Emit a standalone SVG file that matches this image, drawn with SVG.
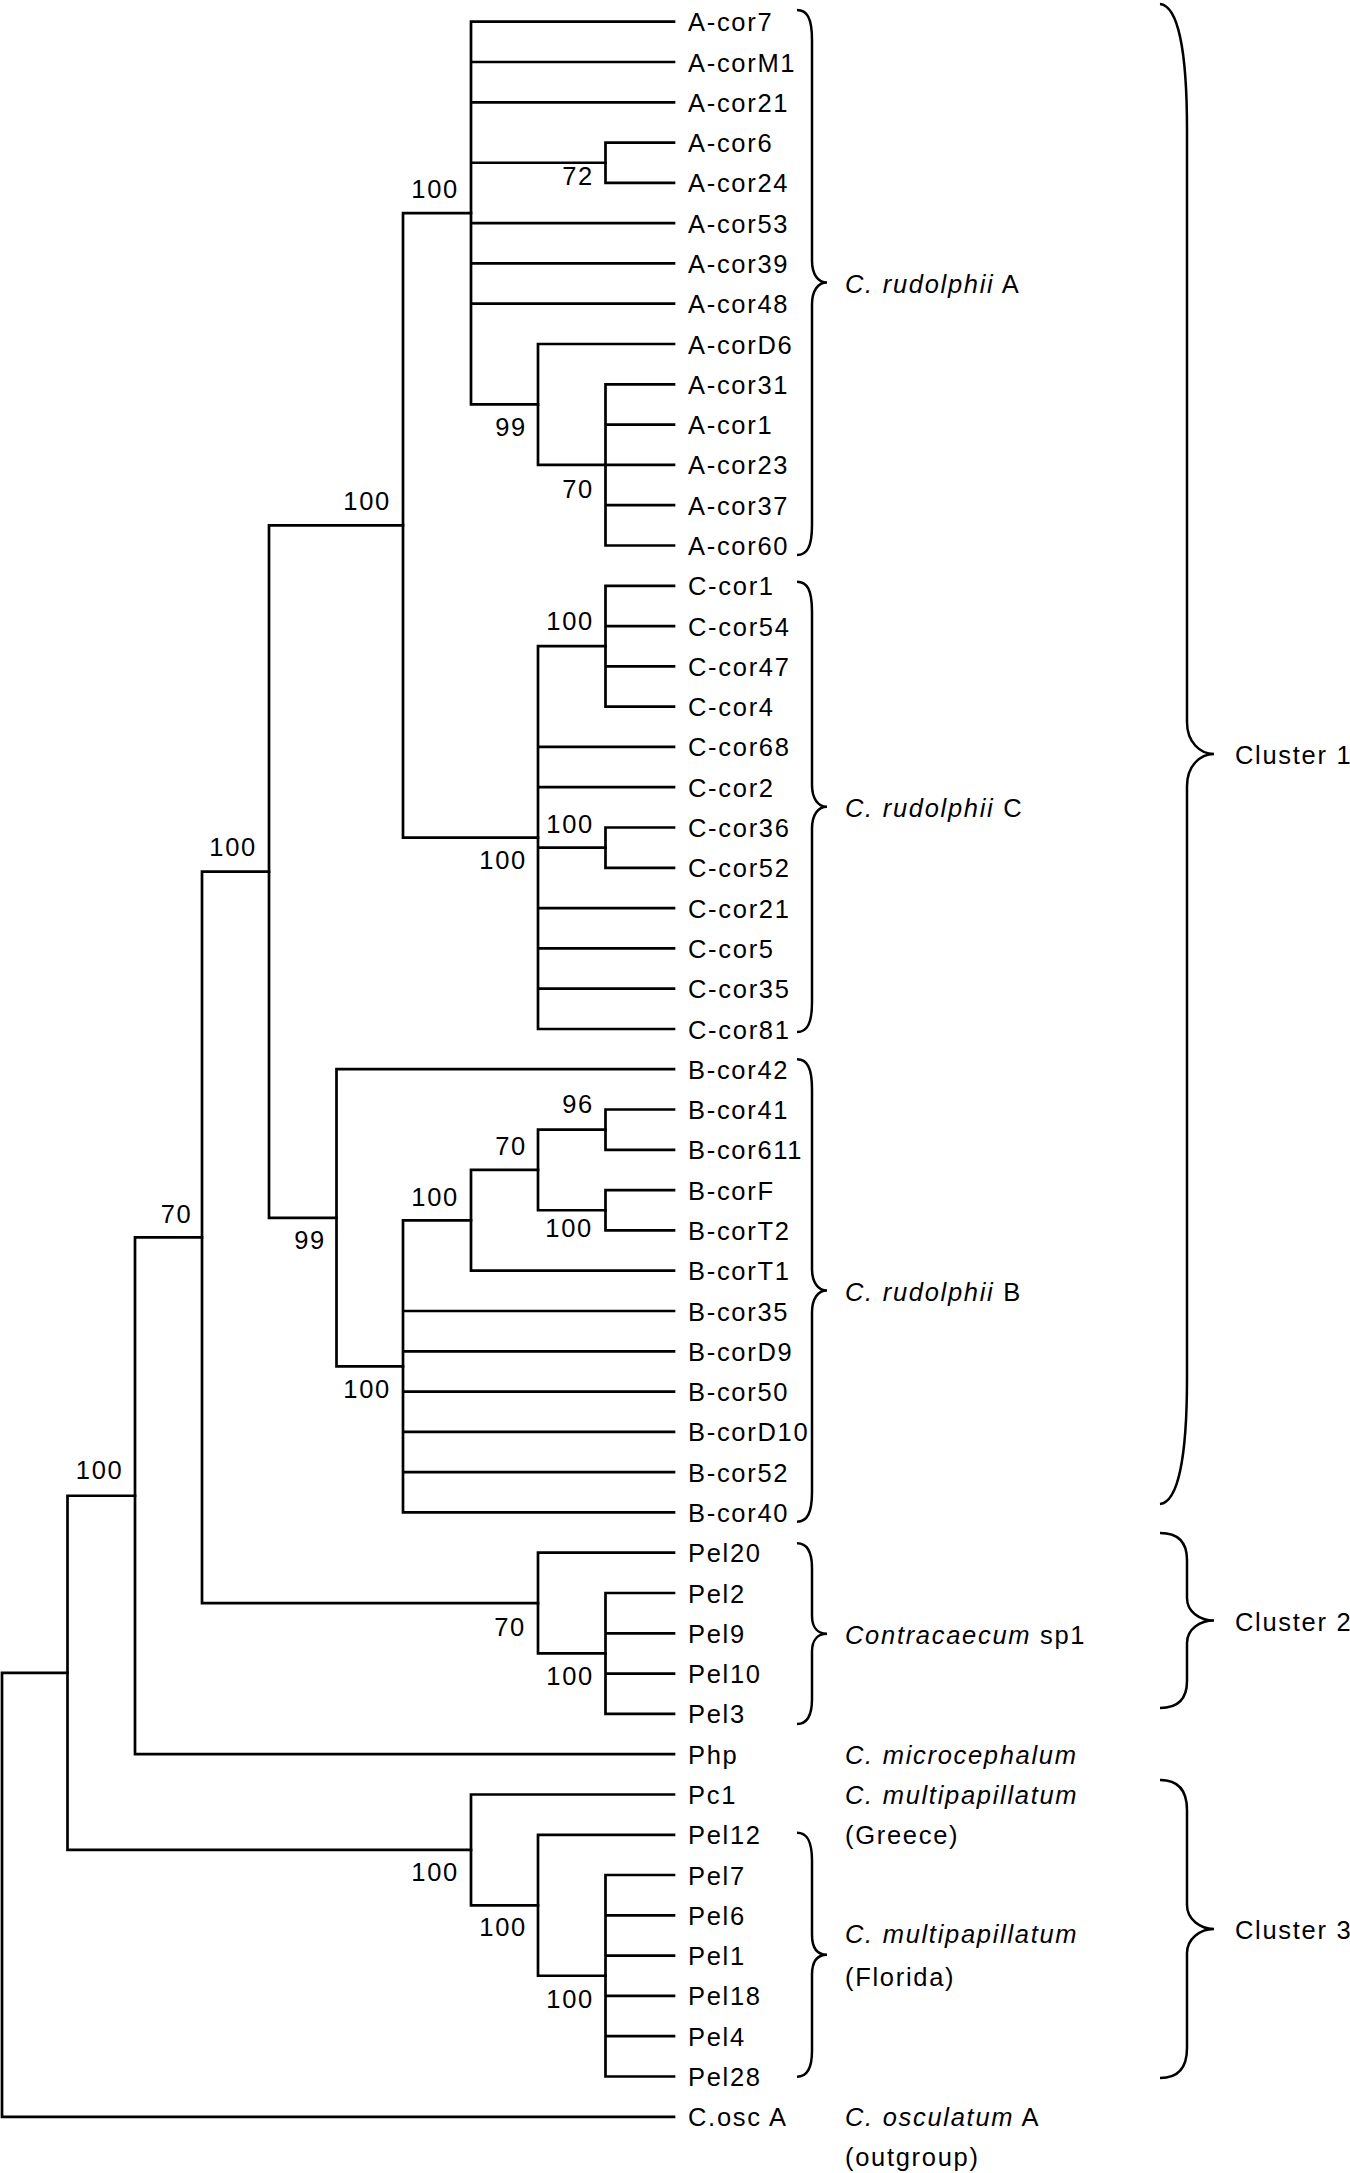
<svg xmlns="http://www.w3.org/2000/svg" width="1350" height="2173" viewBox="0 0 1350 2173">
<style>
.t{font-family:"Liberation Sans",Arial,sans-serif;font-size:25.5px;letter-spacing:1.7px;fill:#000}
.bs{text-anchor:end}
.i{font-style:italic}
.ln{stroke:#000;stroke-width:2.7;fill:none;stroke-linecap:square}
.br{stroke:#000;stroke-width:2.5;fill:none}
</style>
<rect width="1350" height="2173" fill="#fff"/>
<g id="connectors" class="ln">
<path d="M2 1672.8V2116.8M2 1672.8H67.5M2 2116.8H674"/>
<path d="M67.5 1495.75V1849.9M67.5 1495.75H135M67.5 1849.9H471"/>
<path d="M135 1237.35V1754.2M135 1237.35H202M135 1754.2H674"/>
<path d="M202 871.6V1603.1M202 871.6H269M202 1603.1H538"/>
<path d="M269 525.35V1217.8M269 525.35H403M269 1217.8H336.5"/>
<path d="M403 213.1V837.6M403 213.1H471M403 837.6H538"/>
<path d="M471 21.7V404.45M471 21.7H674M471 62H674M471 102.3H674M471 223.2H674M471 263.4H674M471 303.7H674M471 162.75H605.5M471 404.45H538"/>
<path d="M605.5 142.6V182.9M605.5 142.6H674M605.5 182.9H674"/>
<path d="M538 344V464.9M538 344H674M538 464.9H674"/>
<path d="M605.5 384.3V545.5M605.5 384.3H674M605.5 424.6H674M605.5 505.2H674M605.5 545.5H674"/>
<path d="M538 646.2V1029M538 646.2H605.5M538 746.9H674M538 787.2H674M538 908.1H674M538 948.4H674M538 988.7H674M538 1029H674M538 847.65H605.5"/>
<path d="M605.5 585.8V706.6M605.5 585.8H674M605.5 626.1H674M605.5 666.3H674M605.5 706.6H674"/>
<path d="M605.5 827.5V867.8M605.5 827.5H674M605.5 867.8H674"/>
<path d="M336.5 1069.2V1366.35M336.5 1069.2H674M336.5 1366.35H403"/>
<path d="M403 1220.35V1512.4M403 1220.35H471M403 1311H674M403 1351.3H674M403 1391.6H674M403 1431.9H674M403 1472.1H674M403 1512.4H674"/>
<path d="M471 1169.95V1270.7M471 1169.95H538M471 1270.7H674"/>
<path d="M538 1129.65V1210.25M538 1129.65H605.5M538 1210.25H605.5"/>
<path d="M605.5 1109.5V1149.8M605.5 1109.5H674M605.5 1149.8H674"/>
<path d="M605.5 1190.1V1230.4M605.5 1190.1H674M605.5 1230.4H674"/>
<path d="M538 1552.7V1653.45M538 1552.7H674M538 1653.45H605.5"/>
<path d="M605.5 1593V1713.9M605.5 1593H674M605.5 1633.3H674M605.5 1673.6H674M605.5 1713.9H674"/>
<path d="M471 1794.5V1905.3M471 1794.5H674M471 1905.3H538"/>
<path d="M538 1834.8V1975.75M538 1834.8H674M538 1975.75H605.5"/>
<path d="M605.5 1875V2076.5M605.5 1875H674M605.5 1915.3H674M605.5 1955.6H674M605.5 1995.9H674M605.5 2036.2H674M605.5 2076.5H674"/>
</g>
<g id="bootstrap" class="t bs">
<text x="459" y="198">100</text>
<text x="594" y="185">72</text>
<text x="527" y="436">99</text>
<text x="594" y="498">70</text>
<text x="594" y="630">100</text>
<text x="594" y="832.5">100</text>
<text x="527" y="869">100</text>
<text x="391" y="510">100</text>
<text x="257" y="856">100</text>
<text x="192.5" y="1222.5">70</text>
<text x="326" y="1249">99</text>
<text x="459" y="1206">100</text>
<text x="527" y="1155">70</text>
<text x="594" y="1113">96</text>
<text x="593" y="1237">100</text>
<text x="391" y="1398">100</text>
<text x="526" y="1636">70</text>
<text x="594" y="1685">100</text>
<text x="123.5" y="1479">100</text>
<text x="459" y="1881">100</text>
<text x="527" y="1936">100</text>
<text x="594" y="2008">100</text>
</g>
<g id="leaves" class="t">
<g id="n-Acor7"><text x="688" y="31.2">A-cor7</text></g>
<g id="n-AcorM1"><text x="688" y="71.5">A-corM1</text></g>
<g id="n-Acor21"><text x="688" y="111.8">A-cor21</text></g>
<g id="n-Acor6"><text x="688" y="152.1">A-cor6</text></g>
<g id="n-Acor24"><text x="688" y="192.4">A-cor24</text></g>
<g id="n-Acor53"><text x="688" y="232.7">A-cor53</text></g>
<g id="n-Acor39"><text x="688" y="272.9">A-cor39</text></g>
<g id="n-Acor48"><text x="688" y="313.2">A-cor48</text></g>
<g id="n-AcorD6"><text x="688" y="353.5">A-corD6</text></g>
<g id="n-Acor31"><text x="688" y="393.8">A-cor31</text></g>
<g id="n-Acor1"><text x="688" y="434.1">A-cor1</text></g>
<g id="n-Acor23"><text x="688" y="474.4">A-cor23</text></g>
<g id="n-Acor37"><text x="688" y="514.7">A-cor37</text></g>
<g id="n-Acor60"><text x="688" y="555">A-cor60</text></g>
<g id="n-Ccor1"><text x="688" y="595.3">C-cor1</text></g>
<g id="n-Ccor54"><text x="688" y="635.6">C-cor54</text></g>
<g id="n-Ccor47"><text x="688" y="675.8">C-cor47</text></g>
<g id="n-Ccor4"><text x="688" y="716.1">C-cor4</text></g>
<g id="n-Ccor68"><text x="688" y="756.4">C-cor68</text></g>
<g id="n-Ccor2"><text x="688" y="796.7">C-cor2</text></g>
<g id="n-Ccor36"><text x="688" y="837">C-cor36</text></g>
<g id="n-Ccor52"><text x="688" y="877.3">C-cor52</text></g>
<g id="n-Ccor21"><text x="688" y="917.6">C-cor21</text></g>
<g id="n-Ccor5"><text x="688" y="957.9">C-cor5</text></g>
<g id="n-Ccor35"><text x="688" y="998.2">C-cor35</text></g>
<g id="n-Ccor81"><text x="688" y="1038.5">C-cor81</text></g>
<g id="n-Bcor42"><text x="688" y="1078.7">B-cor42</text></g>
<g id="n-Bcor41"><text x="688" y="1119">B-cor41</text></g>
<g id="n-Bcor611"><text x="688" y="1159.3">B-cor611</text></g>
<g id="n-BcorF"><text x="688" y="1199.6">B-corF</text></g>
<g id="n-BcorT2"><text x="688" y="1239.9">B-corT2</text></g>
<g id="n-BcorT1"><text x="688" y="1280.2">B-corT1</text></g>
<g id="n-Bcor35"><text x="688" y="1320.5">B-cor35</text></g>
<g id="n-BcorD9"><text x="688" y="1360.8">B-corD9</text></g>
<g id="n-Bcor50"><text x="688" y="1401.1">B-cor50</text></g>
<g id="n-BcorD10"><text x="688" y="1441.4">B-corD10</text></g>
<g id="n-Bcor52"><text x="688" y="1481.6">B-cor52</text></g>
<g id="n-Bcor40"><text x="688" y="1521.9">B-cor40</text></g>
<g id="n-Pel20"><text x="688" y="1562.2">Pel20</text></g>
<g id="n-Pel2"><text x="688" y="1602.5">Pel2</text></g>
<g id="n-Pel9"><text x="688" y="1642.8">Pel9</text></g>
<g id="n-Pel10"><text x="688" y="1683.1">Pel10</text></g>
<g id="n-Pel3"><text x="688" y="1723.4">Pel3</text></g>
<g id="n-Php"><text x="688" y="1763.7">Php</text></g>
<g id="n-Pc1"><text x="688" y="1804">Pc1</text></g>
<g id="n-Pel12"><text x="688" y="1844.3">Pel12</text></g>
<g id="n-Pel7"><text x="688" y="1884.5">Pel7</text></g>
<g id="n-Pel6"><text x="688" y="1924.8">Pel6</text></g>
<g id="n-Pel1"><text x="688" y="1965.1">Pel1</text></g>
<g id="n-Pel18"><text x="688" y="2005.4">Pel18</text></g>
<g id="n-Pel4"><text x="688" y="2045.7">Pel4</text></g>
<g id="n-Pel28"><text x="688" y="2086">Pel28</text></g>
<g id="n-Cosc"><text x="688" y="2126.3">C.osc A</text></g>
</g>
<g id="clades" class="t">
<g id="clade-rudA"><path class="br" d="M797 10C807 10 812 18 812 40L812 260.5C812 274.5 818 282.5 827 282.5C818 282.5 812 290.5 812 304.5L812 525C812 547 807 555 797 555"/><text x="845" y="292.5"><tspan class="i">C. rudolphii</tspan> A</text></g>
<g id="clade-rudC"><path class="br" d="M797 581.7C807 581.7 812 589.7 812 611.7L812 784.8C812 798.8 818 806.8 827 806.8C818 806.8 812 814.8 812 828.8L812 1002C812 1024 807 1032 797 1032"/><text x="845" y="816.8"><tspan class="i">C. rudolphii</tspan> C</text></g>
<g id="clade-rudB"><path class="br" d="M797 1059.3C807 1059.3 812 1067.3 812 1089.3L812 1268.5C812 1282.5 818 1290.5 827 1290.5C818 1290.5 812 1298.5 812 1312.5L812 1491.7C812 1513.7 807 1521.7 797 1521.7"/><text x="845" y="1300.5"><tspan class="i">C. rudolphii</tspan> B</text></g>
<g id="clade-sp1"><path class="br" d="M797 1543.3C807 1543.3 812 1551.3 812 1568.3L812 1615.7C812 1627.7 818 1633.7 827 1633.7C818 1633.7 812 1639.7 812 1651.7L812 1699C812 1716 807 1724 797 1724"/><text x="845" y="1643.7"><tspan class="i">Contracaecum</tspan> sp1</text></g>
<g id="clade-micro"><text x="845" y="1763.7" class="i">C. microcephalum</text></g>
<g id="clade-greece"><text x="845" y="1804" class="i">C. multipapillatum</text><text x="845" y="1844.3">(Greece)</text></g>
<g id="clade-florida"><path class="br" d="M797 1832.7C807 1832.7 812 1840.7 812 1860.7L812 1934.7C812 1948.7 818 1954.7 827 1954.7C818 1954.7 812 1960.7 812 1974.7L812 2050.7C812 2068.7 807 2076.7 797 2076.7"/><text x="845" y="1943" class="i">C. multipapillatum</text><text x="845" y="1986">(Florida)</text></g>
<g id="clade-osc"><text x="845" y="2126.3"><tspan class="i">C. osculatum</tspan> A</text><text x="845" y="2166">(outgroup)</text></g>
</g>
<g id="clusters" class="t">
<g id="cluster1"><path class="br" d="M1160 4C1178 6 1187 50 1187 130L1187 722C1187 742 1200 754 1214 754C1200 754 1187 766 1187 786L1187 1378C1187 1458 1178 1502 1160 1504"/><text x="1235" y="764">Cluster 1</text></g>
<g id="cluster2"><path class="br" d="M1160 1533C1176 1533 1187 1540 1187 1560L1187 1598C1187 1612 1200 1620.5 1214 1620.5C1200 1620.5 1187 1629 1187 1643L1187 1681C1187 1701 1176 1708 1160 1708"/><text x="1235" y="1630.5">Cluster 2</text></g>
<g id="cluster3"><path class="br" d="M1160 1780C1176 1780 1187 1788 1187 1810L1187 1905C1187 1919 1200 1929 1214 1929C1200 1929 1187 1939 1187 1953L1187 2048C1187 2070 1176 2078 1160 2078"/><text x="1235" y="1939">Cluster 3</text></g>
</g>
</svg>
